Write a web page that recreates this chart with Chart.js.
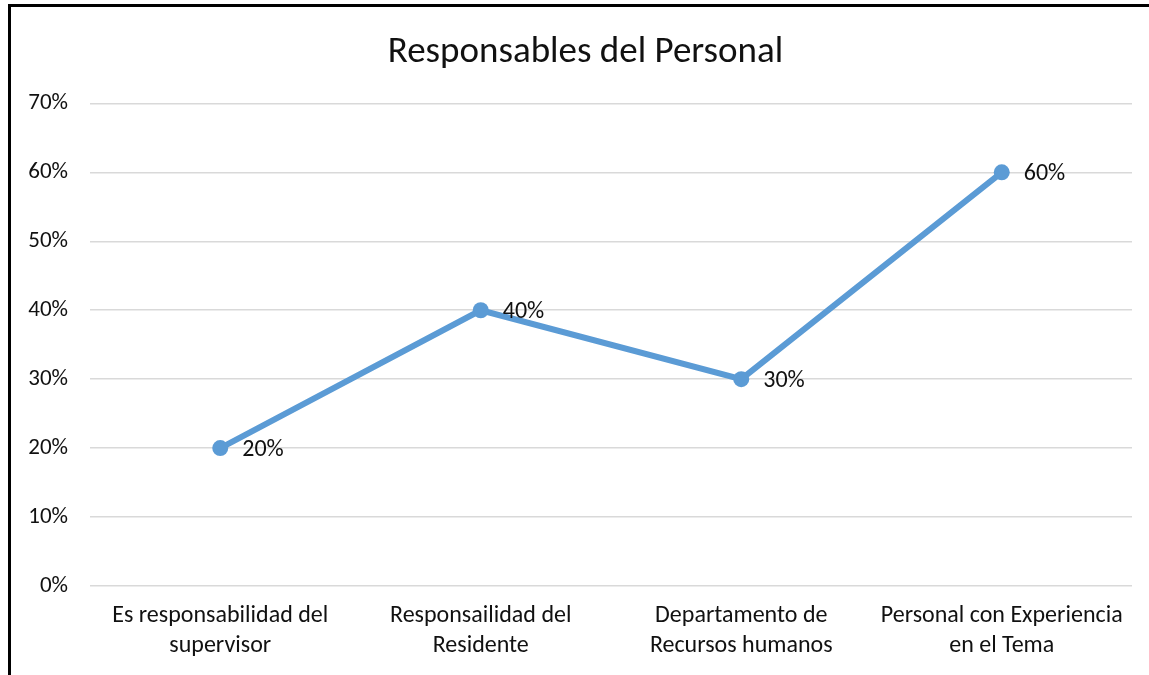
<!DOCTYPE html>
<html>
<head>
<meta charset="utf-8">
<script src="https://cdn.jsdelivr.net/npm/chart.js@4"></script>
<style>
    body { margin: 0; background: #fff; }
    .frame {
        position: absolute;
        left: 8px;
        top: 4px;
        width: 1138px;
        height: 668px;
        border-left: 3px solid #000;
        border-top: 3px solid #000;
    }
</style>
</head>
<body>
<div class="frame"><canvas class="lineChart" width="1138" height="668"></canvas></div>
<script>
// Responsables del Personal - percentages per category
const categories = [
    ['Es responsabilidad del', 'supervisor'],
    ['Responsailidad del', 'Residente'],
    ['Departamento de', 'Recursos humanos'],
    ['Personal con Experiencia', 'en el Tema']
];
const values = [0.20, 0.40, 0.30, 0.60];
const yTicks = [0, 0.1, 0.2, 0.3, 0.4, 0.5, 0.6, 0.7];

const fontFamily = 'Carlito, Lato, "Open Sans", sans-serif';

// small plugin to write the value next to each point
const pointLabels = {
    id: 'pointLabels',
    afterLayout: (chart) => {
        // title sits a bit right of the canvas centre in the original
        if (chart.titleBlock) chart.titleBlock.left += 28;
    },
    afterDatasetsDraw: (chart) => {
        let ctx = chart.ctx;
        let meta = chart.getDatasetMeta(0);
        ctx.save();
        ctx.font = '24px ' + fontFamily;
        ctx.fillStyle = '#111';
        ctx.textAlign = 'left';
        ctx.textBaseline = 'middle';
        meta.data.forEach((pt, i) => {
            ctx.fillText(Math.round(values[i] * 100) + '%', pt.x + 22, pt.y + 2);
        });
        ctx.restore();
    }
};

const renderChart = () => {
    let ctx = document.querySelector('.lineChart');
    let chart = new Chart(ctx, {
        type: 'line',
        data: {
            labels: categories,
            datasets: [{
                data: values,
                borderColor: '#5b9bd5',
                backgroundColor: '#5b9bd5',
                borderWidth: 6,
                pointRadius: 8,
                pointHoverRadius: 8,
                pointBorderWidth: 0,
                tension: 0
            }]
        },
        plugins: [pointLabels],
        options: {
            responsive: false,
            animation: false,
            layout: {
                padding: { left: 0, right: 17, top: 0, bottom: 0 }
            },
            plugins: {
                legend: { display: false },
                tooltip: { enabled: false },
                title: {
                    display: true,
                    text: 'Responsables del Personal',
                    color: '#111',
                    font: { size: 37, family: fontFamily, weight: 'normal', lineHeight: 1.2 },
                    padding: { top: 24, bottom: 28 }
                }
            },
            scales: {
                y: {
                    min: 0,
                    max: 0.7,
                    afterFit: (scale) => { scale.width = 79; },
                    afterBuildTicks: (scale) => {
                        scale.ticks = yTicks.map(v => ({ value: v }));
                    },
                    border: { display: false },
                    grid: { color: '#d9d9d9', lineWidth: 1.5, drawTicks: false },
                    ticks: {
                        padding: 22,
                        color: '#111',
                        font: { size: 23, family: fontFamily },
                        callback: (v) => Math.round(v * 100) + '%'
                    }
                },
                x: {
                    offset: true,
                    afterFit: (scale) => { scale.height = 89; },
                    border: { display: false },
                    grid: { display: false },
                    ticks: {
                        padding: 7,
                        color: '#111',
                        maxRotation: 0,
                        autoSkip: false,
                        font: { size: 24, family: fontFamily, lineHeight: 1.25 }
                    }
                }
            }
        }
    });
};

renderChart();
</script>
</body>
</html>
